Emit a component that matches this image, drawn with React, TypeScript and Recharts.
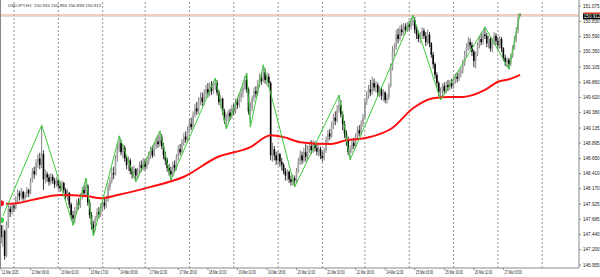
import React from "react";
import { ComposedChart, Bar, Line, XAxis, YAxis, ReferenceLine } from "recharts";

// ---- data ----
const title = "USDJPY,H1  150.945 150.956 150.899 150.912";
const firstOpen = 147.7;
const closes = [
  147.40,147.50,147.10,147.60,147.85,147.80,147.90,147.86,148.00,148.10,
  148.05,148.12,148.02,148.08,148.15,148.10,148.30,148.45,148.40,148.58,
  148.65,148.55,148.72,148.32,148.40,148.35,148.28,148.36,148.30,148.24,
  148.30,148.22,148.18,148.26,148.15,148.05,148.10,147.92,147.75,147.70,
  147.82,147.95,147.90,148.05,148.15,148.10,148.22,147.95,147.75,147.60,
  147.55,147.70,147.80,147.76,147.88,147.95,147.90,148.00,148.20,148.30,
  148.42,148.40,148.65,148.80,148.90,148.75,148.82,148.65,148.55,148.62,
  148.45,148.40,148.48,148.38,148.45,148.55,148.50,148.60,148.52,148.62,
  148.70,148.78,148.70,148.85,148.92,148.88,149.00,148.85,148.70,148.62,
  148.50,148.45,148.40,148.55,148.50,148.68,148.80,148.75,148.90,149.00,
  148.95,149.10,149.20,149.15,149.35,149.45,149.40,149.55,149.62,149.55,
  149.68,149.75,149.70,149.80,149.72,149.82,149.85,149.70,149.55,149.60,
  149.40,149.25,149.30,149.38,149.32,149.45,149.40,149.55,149.50,149.62,
  149.70,149.78,149.90,149.75,149.40,149.45,149.60,149.72,149.68,149.85,
  149.92,149.88,150.02,149.90,149.95,149.85,148.70,148.80,148.70,148.62,
  148.72,148.60,148.55,148.45,148.38,148.44,148.32,148.28,148.34,148.30,
  148.45,148.60,148.70,148.62,148.75,148.68,148.80,148.85,148.78,148.88,
  148.82,148.76,148.80,148.70,148.65,148.78,148.95,149.05,149.00,149.18,
  149.30,149.25,149.42,149.50,149.35,149.20,149.05,148.95,148.75,148.80,
  148.90,148.85,149.00,149.10,149.05,149.20,149.30,149.55,149.65,149.75,
  149.70,149.85,149.78,149.82,149.70,149.75,149.65,149.70,149.58,149.62,
  149.80,150.10,150.35,150.40,150.62,150.55,150.70,150.66,150.75,150.70,
  150.78,150.74,150.82,150.85,150.70,150.62,150.55,150.60,150.68,150.60,
  150.50,150.62,150.48,150.30,150.15,149.98,149.85,149.70,149.72,149.80,
  149.72,149.82,149.78,149.85,149.80,149.90,149.95,149.92,150.00,150.05,
  150.15,150.30,150.40,150.50,150.45,150.35,150.20,150.30,150.45,150.55,
  150.50,150.62,150.60,150.48,150.55,150.40,150.50,150.60,150.52,150.45,
  150.55,150.40,150.25,150.18,150.22,150.15,150.28,150.40,150.55,150.68,
  150.945,150.912,
];
const highs = [
  147.75,147.60,147.52,147.65,147.92,147.90,147.95,147.94,148.05,148.16,
  148.14,148.18,148.14,148.12,148.20,148.17,148.34,148.50,148.52,148.64,
  148.72,148.74,149.18,148.78,148.48,148.44,148.40,148.42,148.40,148.34,
  148.36,148.33,148.28,148.30,148.28,148.18,148.16,148.12,147.95,147.82,
  147.88,148.00,148.02,148.10,148.20,148.22,148.34,148.24,148.00,147.80,
  147.66,147.74,147.86,147.88,147.94,148.00,148.02,148.06,148.26,148.36,
  148.50,148.52,148.70,148.88,149.01,148.95,148.88,148.86,148.70,148.68,
  148.65,148.52,148.54,148.50,148.50,148.60,148.62,148.66,148.64,148.68,
  148.76,148.84,148.86,148.90,148.98,149.02,149.09,149.04,148.90,148.76,
  148.66,148.56,148.52,148.60,148.62,148.72,148.86,148.88,148.96,149.06,
  149.08,149.16,149.28,149.30,149.40,149.52,149.55,149.62,149.70,149.70,
  149.75,149.82,149.85,149.86,149.88,149.88,149.93,149.90,149.74,149.66,
  149.62,149.44,149.36,149.42,149.44,149.50,149.52,149.60,149.62,149.68,
  149.76,149.85,149.96,150.01,149.78,149.55,149.65,149.78,149.80,149.90,
  150.00,150.02,150.14,150.08,150.02,150.00,149.88,148.90,148.85,148.76,
  148.78,148.74,148.66,148.58,148.50,148.48,148.46,148.38,148.40,148.38,
  148.50,148.66,148.78,148.76,148.82,148.88,148.86,148.92,148.94,148.94,
  148.92,148.88,148.86,148.84,148.76,148.82,149.00,149.10,149.12,149.24,
  149.36,149.40,149.50,149.66,149.58,149.40,149.25,149.10,149.00,148.86,
  148.95,148.98,149.05,149.16,149.18,149.26,149.36,149.60,149.72,149.82,
  149.90,149.95,149.92,149.88,149.86,149.80,149.78,149.75,149.72,149.68,
  149.85,150.16,150.44,150.48,150.70,150.72,150.76,150.78,150.80,150.80,
  150.82,150.84,150.88,150.93,150.90,150.76,150.68,150.66,150.74,150.72,
  150.66,150.70,150.66,150.50,150.34,150.18,150.02,149.88,149.78,149.84,
  149.86,149.88,149.90,149.90,149.92,149.95,150.00,150.02,150.06,150.10,
  150.22,150.36,150.48,150.58,150.56,150.50,150.38,150.35,150.50,150.60,
  150.64,150.68,150.74,150.65,150.60,150.58,150.56,150.66,150.64,150.58,
  150.60,150.58,150.42,150.30,150.26,150.25,150.32,150.45,150.60,150.74,
  150.95,150.956,
];
const lows = [
  147.30,147.25,147.04,147.08,147.55,147.72,147.76,147.80,147.84,147.95,
  147.98,148.00,147.98,147.97,148.03,148.04,148.08,148.27,148.33,148.38,
  148.50,148.48,148.50,148.15,148.25,148.28,148.22,148.24,148.25,148.18,
  148.20,148.16,148.12,148.14,148.10,148.00,147.98,147.86,147.68,147.59,
  147.62,147.78,147.84,147.86,148.00,148.04,148.06,147.90,147.70,147.52,
  147.42,147.50,147.66,147.70,147.72,147.82,147.84,147.86,147.96,148.14,
  148.25,148.32,148.38,148.60,148.75,148.70,148.66,148.60,148.48,148.45,
  148.40,148.33,148.34,148.28,148.32,148.40,148.44,148.46,148.46,148.48,
  148.56,148.64,148.66,148.68,148.80,148.82,148.84,148.80,148.64,148.55,
  148.44,148.38,148.31,148.36,148.44,148.46,148.62,148.70,148.72,148.85,
  148.90,148.92,149.05,149.10,149.12,149.30,149.34,149.36,149.50,149.48,
  149.50,149.60,149.62,149.64,149.66,149.68,149.74,149.65,149.50,149.45,
  149.34,149.20,149.12,149.22,149.26,149.28,149.34,149.36,149.44,149.46,
  149.55,149.62,149.74,149.70,149.35,149.15,149.40,149.55,149.62,149.64,
  149.78,149.82,149.86,149.84,149.80,149.78,148.62,148.60,148.62,148.55,
  148.55,148.52,148.46,148.40,148.30,148.30,148.26,148.22,148.22,148.20,
  148.26,148.42,148.55,148.56,148.58,148.60,148.62,148.74,148.72,148.74,
  148.76,148.70,148.68,148.64,148.60,148.62,148.74,148.90,148.94,148.98,
  149.12,149.18,149.22,149.38,149.30,149.10,148.98,148.85,148.70,148.63,
  148.74,148.80,148.82,148.95,149.00,149.02,149.15,149.28,149.50,149.60,
  149.64,149.66,149.72,149.70,149.64,149.62,149.58,149.56,149.53,149.52,
  149.58,149.78,150.05,150.28,150.38,150.48,150.52,150.60,150.62,150.64,
  150.66,150.68,150.70,150.76,150.64,150.55,150.50,150.48,150.55,150.55,
  150.44,150.46,150.42,150.25,150.08,149.92,149.78,149.64,149.58,149.62,
  149.68,149.68,149.72,149.74,149.76,149.76,149.84,149.86,149.88,149.94,
  150.00,150.12,150.25,150.36,150.38,150.28,150.10,150.08,150.28,150.40,
  150.45,150.46,150.55,150.42,150.40,150.35,150.34,150.45,150.46,150.38,
  150.40,150.34,150.20,150.12,150.10,150.07,150.12,150.25,150.38,150.50,
  150.64,150.899,
];

const zigzagBars = [0, 22, 39, 46, 50, 64, 73, 86, 92, 116, 122, 133, 135, 142, 159, 183, 189, 223, 238, 262, 275, 281];
const zigzagPrices = [147.67, 149.18, 147.59, 148.34, 147.42, 149.01, 148.28, 149.09, 148.31, 149.93, 149.12, 150.01, 149.15, 150.14, 148.2, 149.66, 148.63, 150.93, 149.58, 150.74, 150.07, 150.956];

const maBars = [0, 5, 21, 32, 47, 54, 63, 81, 99, 117, 135, 146, 153, 162, 178, 187, 198, 212, 223, 234, 243, 250, 262, 269, 275, 281];
const maPrices = [147.94, 147.93, 148.02, 148.07, 148.05, 148.02, 148.07, 148.2, 148.36, 148.67, 148.83, 149.02, 148.99, 148.91, 148.88, 148.94, 148.98, 149.14, 149.45, 149.61, 149.63, 149.63, 149.74, 149.87, 149.91, 149.98];

const daySeparatorBars = [7, 31, 55, 78, 102, 126, 150, 174, 197, 221, 245, 269, 293];

const xTickBars = [0, 16, 32, 48, 64, 80, 96, 112, 128, 144, 160, 176, 192, 208, 224, 240, 256, 272];
const xTickLabels = [
  "11 Mar 2025", "12 Mar 09:00", "13 Mar 01:00", "13 Mar 17:00", "14 Mar 09:00", "17 Mar 02:00",
  "17 Mar 18:00", "18 Mar 10:00", "19 Mar 02:00", "19 Mar 18:00", "20 Mar 10:00", "21 Mar 02:00",
  "21 Mar 18:00", "24 Mar 11:00", "25 Mar 03:00", "25 Mar 19:00", "26 Mar 11:00", "27 Mar 03:00",
];
const yTicks = [151.075, 150.83, 150.59, 150.35, 150.105, 149.86, 149.62, 149.38, 149.135, 148.895, 148.65, 148.41, 148.17, 147.925, 147.685, 147.44, 147.2, 146.955];

const bidPrice = 150.912;
const askPrice = 150.932;

// ---- table ----
const rows = closes.map((c, i) => {
  const o = i === 0 ? firstOpen : closes[i - 1];
  const h = Math.max(highs[i], o, c);
  const l = Math.min(lows[i], o, c);
  const zi = zigzagBars.indexOf(i);
  const mi = maBars.indexOf(i);
  return {
    i, o, c, h, l,
    range: [l, h],
    zz: zi >= 0 ? zigzagPrices[zi] : null,
    ma: mi >= 0 ? maPrices[mi] : null,
  };
});

const FONT = "'Liberation Sans', Arial, sans-serif";

const Candle = (props: any) => {
  const { x, y, width, height, payload } = props;
  if (!payload || x == null || y == null) return null;
  const top = Math.min(y, y + height);
  const span = Math.abs(height);
  const { o, c, h, l } = payload;
  const py = (p: number) => (h === l ? top : top + ((h - p) / (h - l)) * span);
  const cx = x + width / 2;
  const bull = c >= o;
  const bt = py(Math.max(o, c));
  const bb = py(Math.min(o, c));
  return (
    <g>
      <line x1={cx} x2={cx} y1={top} y2={top + span} stroke={bull ? "#666" : "#000"} strokeWidth={0.8} />
      <rect x={cx - 0.8} y={bt} width={1.6} height={Math.max(0.7, bb - bt)} fill={bull ? "#a0a0a0" : "#000"} />
    </g>
  );
};

const XTick = (props: any) => {
  const { x, y, payload } = props;
  const idx = xTickBars.indexOf(payload.value);
  return (
    <g transform={`translate(${x + 1},${y + 3.7})`}>
      <text fontSize={4.5} fill="#222" fontFamily={FONT} transform="scale(0.66,1)">
        {idx >= 0 ? xTickLabels[idx] : ""}
      </text>
    </g>
  );
};

const YTick = (props: any) => {
  const { x, y, payload } = props;
  return (
    <text x={x + 1} y={y + 1.6} fontSize={4.6} fill="#222" fontFamily={FONT}>
      {Number(payload.value).toFixed(3)}
    </text>
  );
};

const BidLabel = (props: any) => {
  const vb = props.viewBox || {};
  const lx = vb.x + vb.width + 4;
  const ly = vb.y;
  return (
    <g>
      <rect x={lx} y={ly - 3.8} width={17} height={1.6} fill="#e8502a" />
      <rect x={lx} y={ly - 2.4} width={17} height={5.4} fill="#000" />
      <text x={lx + 0.8} y={ly + 1.7} fontSize={4.6} fill="#fff" fontFamily={FONT}>
        {bidPrice.toFixed(3)}
      </text>
    </g>
  );
};

export default function App() {
  return (
    <div style={{ position: "absolute", left: 0, top: 0, width: 600, height: 277, background: "#fff" }}>
      <ComposedChart width={600} height={277} data={rows} margin={{ top: 0, right: 0, bottom: 0, left: 0 }}>
        <XAxis
          type="number"
          dataKey="i"
          domain={[-0.58, 312.9]}
          allowDataOverflow
          ticks={xTickBars}
          interval={0}
          tick={<XTick />}
          height={9}
          tickSize={2}
          tickMargin={0}
          axisLine={{ stroke: "#888" }}
          tickLine={{ stroke: "#888" }}
        />
        <YAxis
          orientation="right"
          domain={[146.91, 151.17]}
          allowDataOverflow
          ticks={yTicks}
          interval={0}
          tick={<YTick />}
          width={21}
          tickSize={2}
          tickMargin={1}
          axisLine={{ stroke: "#888" }}
          tickLine={{ stroke: "#888" }}
        />
        {daySeparatorBars.map((d) => (
          <ReferenceLine key={d} x={d} stroke="#777" strokeWidth={0.8} strokeDasharray="2 2" ifOverflow="hidden" />
        ))}
        <ReferenceLine y={askPrice} stroke="#f4a080" strokeWidth={1} />
        <ReferenceLine y={bidPrice} stroke="#cfcfcf" strokeWidth={1} label={<BidLabel />} />
        <Bar dataKey="range" shape={(p: any) => <Candle {...p} />} barSize={2} isAnimationActive={false} />
        <Line
          dataKey="ma"
          type="monotone"
          stroke="#ff1010"
          strokeWidth={2}
          dot={false}
          connectNulls
          isAnimationActive={false}
        />
        <Line
          dataKey="zz"
          type="linear"
          stroke="#3ccc3c"
          strokeWidth={1}
          dot={false}
          connectNulls
          isAnimationActive={false}
        />
      </ComposedChart>
      <svg width={600} height={277} style={{ position: "absolute", left: 0, top: 0, pointerEvents: "none" }}>
        <line x1={0.5} x2={0.5} y1={0} y2={268} stroke="#888" strokeWidth={1} />
        <text x={8} y={7} fontSize={4.4} fill="#333" fontFamily={FONT} style={{ whiteSpace: "pre" }}>
          {title}
        </text>
      </svg>
    </div>
  );
}
